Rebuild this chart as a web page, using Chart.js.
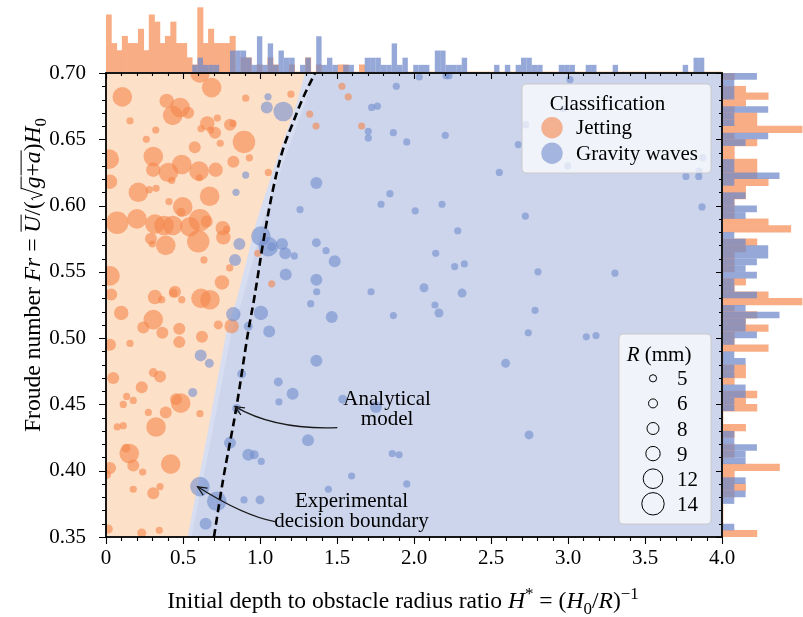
<!DOCTYPE html>
<html>
<head>
<meta charset="utf-8">
<script src="https://cdn.jsdelivr.net/npm/chart.js"></script>
<style>
  html, body { margin: 0; padding: 0; background: #fff; }
  #wrap { position: relative; width: 803px; height: 617px; overflow: hidden; }
  #wrap canvas { position: absolute; }
</style>
</head>
<body>
<div id="wrap">
  <canvas id="main" width="803" height="617" style="left:0;top:0"></canvas>
  <canvas id="histTop" width="616" height="72" style="left:106px;top:0"></canvas>
  <canvas id="histRight" width="80" height="464" style="left:723px;top:73px"></canvas>
</div>
<script>
const SERIF = '"Liberation Serif", "Times New Roman", Times, serif';
Chart.defaults.font.family = SERIF;
Chart.defaults.font.size = 21;
Chart.defaults.color = '#000';

// ---- data ----
const classNames = ['Jetting', 'Gravity waves'];
const sizeLegendR = [5, 6, 8, 9, 12, 14];

const xTickValues = [0, 0.5, 1, 1.5, 2, 2.5, 3, 3.5, 4];
const xTickLabels = ['0', '0.5', '1.0', '1.5', '2.0', '2.5', '3.0', '3.5', '4.0'];
const yTickValues = [0.35, 0.40, 0.45, 0.50, 0.55, 0.60, 0.65, 0.70];
const yTickLabels = ['0.35', '0.40', '0.45', '0.50', '0.55', '0.60', '0.65', '0.70'];

// [H*, Fr, R (mm)]
const jettingPoints = [
  [0.610,0.700,12],[0.686,0.689,12],[0.106,0.682,12],[0.394,0.679,9],[0.481,0.674,12],
  [0.433,0.668,12],[0.534,0.670,8],[0.156,0.664,5],[0.907,0.681,5],[1.201,0.684,5],
  [0.723,0.666,5],[0.658,0.662,9],[0.617,0.658,5],[0.708,0.655,8],[0.680,0.657,5],
  [0.805,0.661,8],[0.825,0.662,5],[0.323,0.657,5],[0.262,0.650,5],[0.896,0.648,14],
  [0.742,0.647,5],[0.576,0.644,8],[0.307,0.637,12],[0.021,0.635,12],[0.931,0.636,5],
  [0.492,0.631,12],[0.827,0.633,8],[0.307,0.627,9],[0.405,0.625,12],[0.604,0.626,12],
  [0.712,0.627,9],[0.427,0.619,5],[0.606,0.621,5],[0.026,0.618,9],[0.210,0.610,12],
  [0.281,0.612,5],[0.325,0.613,5],[0.673,0.607,12],[0.409,0.603,5],[0.498,0.599,12],
  [0.487,0.595,6],[0.073,0.587,14],[0.201,0.590,12],[0.318,0.586,12],[0.377,0.585,12],
  [0.433,0.585,12],[0.545,0.584,12],[0.610,0.589,14],[0.654,0.588,8],[0.758,0.583,9],
  [0.762,0.576,9],[0.784,0.582,5],[0.599,0.573,14],[0.292,0.575,8],[0.301,0.571,5],
  [0.388,0.570,12],[0.636,0.559,5],[0.803,0.553,5],[0.026,0.547,12],[0.034,0.533,8],
  [0.753,0.542,9],[0.985,0.564,5],[1.076,0.541,5],[1.323,0.669,5],[1.364,0.660,5],
  [1.532,0.690,5],[1.573,0.682,5],[1.660,0.660,5],[1.054,0.625,5],[0.448,0.535,8],
  [0.318,0.531,9],[0.099,0.519,9],[0.307,0.514,12],[0.242,0.508,8],[0.366,0.504,8],
  [0.476,0.507,8],[0.437,0.534,6],[0.492,0.529,5],[0.617,0.530,12],[0.675,0.529,12],
  [0.362,0.529,5],[0.729,0.510,6],[0.816,0.509,9],[0.026,0.495,8],[0.156,0.496,5],
  [0.476,0.497,8],[0.623,0.501,8],[0.047,0.470,8],[0.232,0.463,8],[0.307,0.474,6],
  [0.351,0.471,8],[0.455,0.454,8],[0.485,0.451,12],[0.134,0.456,5],[0.112,0.450,5],
  [0.177,0.453,5],[0.388,0.444,8],[0.275,0.444,5],[0.610,0.443,5],[0.325,0.433,12],
  [0.073,0.433,5],[0.112,0.434,5],[0.151,0.413,12],[0.130,0.417,6],[0.026,0.402,8],
  [0.004,0.397,6],[0.177,0.404,8],[0.238,0.399,5],[0.420,0.405,12],[0.177,0.386,5],
  [0.307,0.383,8],[0.351,0.388,5],[0.015,0.356,6],[0.232,0.353,6],[0.346,0.355,5]
];

const gravityPoints = [
  [1.052,0.682,5],[1.044,0.674,8],[1.151,0.671,12],[1.885,0.690,5],[1.725,0.674,5],
  [1.762,0.675,5],[1.703,0.656,5],[1.703,0.651,5],[1.866,0.655,5],[1.953,0.648,5],
  [0.907,0.623,5],[1.366,0.617,8],[0.844,0.610,5],[1.260,0.597,5],[1.844,0.609,5],
  [1.786,0.601,5],[2.008,0.596,5],[1.006,0.577,12],[1.054,0.569,12],[1.076,0.569,6],
  [1.143,0.571,8],[1.164,0.564,8],[1.223,0.562,5],[0.866,0.571,8],[0.838,0.559,8],
  [1.366,0.572,6],[1.429,0.566,5],[1.485,0.558,8],[1.167,0.548,8],[1.366,0.544,8],
  [1.368,0.535,5],[1.721,0.535,5],[0.827,0.518,9],[1.006,0.519,9],[0.924,0.509,6],
  [1.060,0.505,8],[1.329,0.526,5],[1.466,0.516,8],[1.866,0.517,5],[0.615,0.487,8],
  [0.671,0.481,6],[0.881,0.473,6],[0.563,0.459,6],[1.366,0.483,8],[1.119,0.467,6],
  [1.212,0.458,8],[1.123,0.452,5],[0.849,0.447,6],[1.537,0.454,6],[1.753,0.448,8],
  [1.312,0.423,8],[0.805,0.421,8],[0.924,0.412,8],[0.963,0.412,6],[1.008,0.407,5],
  [1.859,0.413,5],[1.903,0.412,5],[1.595,0.396,5],[1.953,0.390,5],[1.444,0.386,5],
  [0.610,0.388,12],[0.719,0.377,12],[0.896,0.378,5],[1.000,0.378,6],[0.647,0.360,8],
  [2.034,0.697,5],[2.208,0.698,5],[2.227,0.698,5],[3.013,0.695,5],[2.203,0.653,5],
  [2.677,0.646,5],[2.725,0.661,5],[2.969,0.673,5],[2.998,0.630,5],[2.554,0.625,5],
  [3.875,0.636,5],[3.766,0.622,5],[3.849,0.622,5],[3.851,0.626,5],[3.870,0.599,5],
  [2.182,0.601,5],[2.723,0.592,5],[2.284,0.581,5],[2.141,0.564,5],[2.264,0.554,5],
  [2.327,0.556,5],[2.805,0.550,5],[3.305,0.549,5],[2.065,0.538,6],[2.312,0.534,6],
  [2.136,0.525,5],[2.162,0.519,6],[2.786,0.521,5],[2.742,0.504,5],[3.119,0.501,5],
  [3.182,0.502,5],[2.595,0.481,6],[2.747,0.427,6]
];

// analytical jetting threshold, [H*, Fr]
const analyticCurve = [
  [0.701,0.350],[0.760,0.393],[0.847,0.448],[0.925,0.506],[0.961,0.529],
  [1.026,0.576],[1.084,0.612],[1.143,0.640],[1.221,0.6645],[1.273,0.6796],[1.357,0.700]
];
// classifier decision boundary (jetting side is above/left)
const jetBoundary = [
  [0,0.350],[0.530,0.350],[0.664,0.431],[0.784,0.506],[0.849,0.529],
  [0.979,0.589],[1.087,0.627],[1.238,0.677],[1.292,0.700]
];
// low-confidence strip just past the boundary
const boundaryBand = [
  [0,0.350],[0.555,0.350],[0.694,0.431],[0.818,0.506],[0.886,0.529],
  [1.022,0.589],[1.135,0.627],[1.292,0.677],[1.350,0.700]
];

// marginal histogram of H*, bins of 0.035 starting at 0
const histBinWidthX = 0.035;
const topJetting = [
  8,4,3,5,4,4,6,3,8,7, 4,5,7,4,4,2,1,9,4,6, 4,4,4,5,0,2,2,0,1,0,
  2,1,0,0,1,0,0,2,0,1, 0,0,0,1,1,0,0,1,0,0, 0,0,0,0,0,0,0,0,0,0,
  0,0,0,0,0,0,0,0,0,0, 0,0,0,0,0,0,0,0,0,0, 0,0,0,0,0,0,0,0,0,0,
  0,0,0,0,0,0,0,0,0,0, 0,0,0,0,0,0,0,0,0,0, 0,0,0,0,0
];
const topGravity = [
  0,0,0,0,0,0,0,0,0,0, 0,0,0,0,0,0,1,2,1,1, 1,0,0,3,3,3,2,1,5,1,
  4,1,3,2,2,0,1,2,0,5, 1,2,1,0,1,1,0,0,2,2, 2,1,1,4,1,2,0,1,1,1,
  0,3,3,1,1,1,2,0,0,0, 0,0,1,0,1,0,1,2,2,1, 1,0,0,0,1,1,1,0,0,1,
  1,0,0,0,1,0,0,0,0,0, 0,0,0,0,0,0,0,1,0,2, 2,0,0,0,0
];

// marginal histogram of Fr, bins of 0.005 listed from Fr = 0.70 downward
const histBinHeightY = 0.005;
const rightJetting = [
  1,0,2,4,2,1,3,3,7,1, 3,1,1,3,3,3,4,2,2,1, 1,1,4,6,0,3,2,1,1,1,
  0,2,1,4,7,1,3,2,4,1, 1,4,0,0,2,2,1,0,3,2, 3,0,0,2,1,0,1,1,0,5,
  1,1,2,1,0,0,0,0,0,3
];
const rightGravity = [
  3,1,1,1,0,4,1,1,0,4, 2,0,0,1,1,5,1,0,2,1, 3,2,0,0,1,2,4,4,3,2,
  3,1,1,3,0,2,5,2,2,3, 1,0,1,2,1,1,0,2,2,1, 1,0,0,0,1,1,3,2,2,0,
  0,2,1,2,1,0,0,0,1,0
];

// ---- styles ----
const ORANGE_PT = 'rgba(245,134,75,0.6)';
const BLUE_PT = 'rgba(113,141,206,0.6)';
const ORANGE_BG = '#fde0c8';
const BLUE_BG = '#cdd5ec';
const BAND_BG = '#d7def1';
const HIST_ORANGE = 'rgb(248,173,133)';
const HIST_BLUE = 'rgba(110,136,201,0.73)';
const markerRadius = { 5: 3.6, 6: 4.5, 8: 6.0, 9: 7.2, 12: 9.8, 14: 11.2 };
const TITLE_SIZE = 23.6;

const toPts = arr => arr.map(([x, y, R]) => ({ x, y, R }));
const toXY = arr => arr.map(([x, y]) => ({ x, y }));
const radiusOf = ctx => (ctx.raw ? markerRadius[ctx.raw.R] : 4);

// ---- rich text helpers (italic, sub/superscript, overbar, root) ----
function fontFor(p, size) {
  const s = (p.sub || p.sup) ? Math.round(size * 0.72) : size;
  return (p.i ? 'italic ' : '') + s + 'px ' + SERIF;
}
function richText(ctx, parts, size, x0, y0, draw) {
  let x = x0;
  for (const p of parts) {
    ctx.font = fontFor(p, size);
    const dy = p.sub ? size * 0.24 : p.sup ? -size * 0.4 : 0;
    const top = y0 - size * 0.8;
    if (p.root) {
      const rw = size * 0.55;
      if (draw) {
        ctx.beginPath();
        ctx.moveTo(x + 1, y0 - size * 0.3);
        ctx.lineTo(x + size * 0.12, y0 - size * 0.36);
        ctx.lineTo(x + size * 0.26, y0 + size * 0.1);
        ctx.lineTo(x + rw, top);
        ctx.stroke();
      }
      x += rw;
    }
    const w = ctx.measureText(p.t).width;
    if (draw) {
      ctx.fillText(p.t, x, y0 + dy);
      if (p.bar || p.root) {
        ctx.beginPath();
        ctx.moveTo(p.root ? x - 1 : x + 1, top);
        ctx.lineTo(x + w + (p.bar ? 1 : 0), top);
        ctx.stroke();
      }
    }
    x += w;
  }
  return x - x0;
}
function drawRichCentered(ctx, parts, size, cx, baseline) {
  const w = richText(ctx, parts, size, 0, 0, false);
  richText(ctx, parts, size, cx - w / 2, baseline, true);
}

const xTitle = [
  { t: 'Initial depth to obstacle radius ratio ' }, { t: 'H', i: true }, { t: '*', sup: true },
  { t: ' = (' }, { t: 'H', i: true }, { t: '0', sub: true }, { t: '/' }, { t: 'R', i: true },
  { t: ')' }, { t: '\u22121', sup: true }
];
const yTitle = [
  { t: 'Froude number ' }, { t: 'Fr', i: true }, { t: ' = ' }, { t: 'U', i: true, bar: true },
  { t: '/(' }, { t: 'g', i: true, root: true }, { t: '+', bar: true }, { t: 'a', i: true, bar: true },
  { t: ')' }, { t: 'H', i: true }, { t: '0', sub: true }
];

const annotations = [
  { lines: ['Analytical', 'model'], at: [1.825, 0.4496], tail: [1.502, 0.4325], ctrl: [1.097, 0.4307], tip: [0.838, 0.4483] },
  { lines: ['Experimental', 'decision boundary'], at: [1.594, 0.3724], tail: [1.097, 0.3616], ctrl: [0.894, 0.3660], tip: [0.595, 0.3879] }
];

function arrow(ctx, p0, c, p1) {
  ctx.beginPath();
  ctx.moveTo(p0[0], p0[1]);
  ctx.quadraticCurveTo(c[0], c[1], p1[0], p1[1]);
  ctx.stroke();
  const ang = Math.atan2(p1[1] - c[1], p1[0] - c[0]);
  const L = 10, spread = 0.42;
  ctx.beginPath();
  ctx.moveTo(p1[0] - L * Math.cos(ang - spread), p1[1] - L * Math.sin(ang - spread));
  ctx.lineTo(p1[0], p1[1]);
  ctx.lineTo(p1[0] - L * Math.cos(ang + spread), p1[1] - L * Math.sin(ang + spread));
  ctx.stroke();
}

function legendBox(ctx, x, y, w, h) {
  ctx.beginPath();
  ctx.roundRect(x, y, w, h, 4);
  ctx.fillStyle = 'rgba(255,255,255,0.7)';
  ctx.fill();
  ctx.strokeStyle = 'rgba(200,200,200,0.9)';
  ctx.lineWidth = 1;
  ctx.stroke();
}

const regionBg = {
  id: 'regionBg',
  beforeDraw(chart) {
    const { ctx, chartArea: a } = chart;
    ctx.save();
    ctx.fillStyle = BLUE_BG;
    ctx.fillRect(a.left, a.top, a.width, a.height);
    ctx.restore();
  }
};

const frame = {
  id: 'frame',
  afterDraw(chart) {
    const { ctx, chartArea: a, scales: { x, y } } = chart;
    ctx.save();
    ctx.strokeStyle = '#000';
    ctx.lineWidth = 1.1;
    ctx.beginPath();
    for (let i = 0; i <= 40; i++) {
      const px = Math.round(x.getPixelForValue(i / 10)) + 0.5;
      const len = i % 5 === 0 ? 7 : 4;
      ctx.moveTo(px, a.bottom); ctx.lineTo(px, a.bottom + len);
      ctx.moveTo(px, a.top); ctx.lineTo(px, a.top + len - 1);
    }
    for (let i = 35; i <= 70; i++) {
      const py = Math.round(y.getPixelForValue(i / 100)) + 0.5;
      const len = i % 5 === 0 ? 7 : 4;
      ctx.moveTo(a.left, py); ctx.lineTo(a.left - len, py);
      ctx.moveTo(a.right, py); ctx.lineTo(a.right - len + 1, py);
    }
    ctx.stroke();
    ctx.lineWidth = 1.8;
    ctx.strokeRect(a.left, a.top, a.width, a.height);
    ctx.restore();
  }
};

const overlay = {
  id: 'overlay',
  afterDraw(chart) {
    const { ctx, chartArea: a, scales: { x, y } } = chart;
    const P = ([vx, vy]) => [x.getPixelForValue(vx), y.getPixelForValue(vy)];
    ctx.save();
    ctx.fillStyle = '#000';
    ctx.strokeStyle = '#000';
    ctx.lineWidth = 1;
    ctx.textBaseline = 'alphabetic';

    // axis titles
    drawRichCentered(ctx, xTitle, TITLE_SIZE, (a.left + a.right) / 2 - 11, 608);
    ctx.save();
    ctx.translate(40, (a.top + a.bottom) / 2 - 30);
    ctx.rotate(-Math.PI / 2);
    drawRichCentered(ctx, yTitle, TITLE_SIZE, 0, 0);
    ctx.restore();

    // annotations
    ctx.font = '21px ' + SERIF;
    ctx.textAlign = 'center';
    for (const an of annotations) {
      const [tx, ty] = P(an.at);
      an.lines.forEach((s, k) => ctx.fillText(s, tx, ty + k * 20));
      ctx.strokeStyle = '#1a1a1a';
      ctx.lineWidth = 1.3;
      arrow(ctx, P(an.tail), P(an.ctrl), P(an.tip));
    }

    // classification legend
    let bx = a.right - 200, by = a.top + 11;
    legendBox(ctx, bx, by, 189, 89);
    ctx.fillStyle = '#000';
    ctx.textAlign = 'center';
    ctx.font = '21px ' + SERIF;
    ctx.fillText('Classification', bx + 85.5, by + 25.5);
    ctx.textAlign = 'left';
    [ORANGE_PT, BLUE_PT].forEach((col, k) => {
      const cy = by + 43.7 + k * 25.6;
      ctx.beginPath();
      ctx.arc(bx + 30, cy, 10.7, 0, Math.PI * 2);
      ctx.fillStyle = col;
      ctx.fill();
      ctx.fillStyle = '#000';
      ctx.fillText(classNames[k], bx + 54, cy + 6.6);
    });

    // marker size legend
    bx = a.right - 103; by = a.bottom - 203;
    legendBox(ctx, bx, by, 92, 190);
    ctx.fillStyle = '#000';
    ctx.textAlign = 'left';
    richText(ctx, [{ t: 'R', i: true }, { t: ' (mm)' }], 21, bx + 7.7, by + 27, true);
    ctx.font = '21px ' + SERIF;
    ctx.strokeStyle = '#000';
    ctx.lineWidth = 1;
    sizeLegendR.forEach((R, k) => {
      const cy = by + 44.3 + k * 25.1;
      ctx.beginPath();
      ctx.arc(bx + 34, cy, markerRadius[R], 0, Math.PI * 2);
      ctx.stroke();
      ctx.fillText(String(R), bx + 58, cy + 7);
    });
    ctx.restore();
  }
};

new Chart(document.getElementById('main'), {
  type: 'scatter',
  data: {
    datasets: [
      {
        type: 'line', label: 'Analytical model', data: toXY(analyticCurve),
        borderColor: '#000', borderWidth: 2.6, borderDash: [8, 4.5],
        pointRadius: 0, fill: false, showLine: true, cubicInterpolationMode: 'monotone', order: 0
      },
      {
        label: classNames[1], data: toPts(gravityPoints), backgroundColor: BLUE_PT,
        borderWidth: 0, pointRadius: radiusOf, order: 1
      },
      {
        label: classNames[0], data: toPts(jettingPoints), backgroundColor: ORANGE_PT,
        borderWidth: 0, pointRadius: radiusOf, order: 2
      },
      {
        type: 'line', label: 'jetting region', data: toXY(jetBoundary),
        borderColor: 'rgba(0,0,0,0)', backgroundColor: ORANGE_BG, fill: 'end',
        pointRadius: 0, showLine: true, tension: 0, order: 3
      },
      {
        type: 'line', label: 'boundary band', data: toXY(boundaryBand),
        borderColor: 'rgba(0,0,0,0)', backgroundColor: BAND_BG, fill: 'end',
        pointRadius: 0, showLine: true, tension: 0, order: 4
      }
    ]
  },
  options: {
    responsive: false,
    animation: false,
    events: [],
    layout: { padding: { left: 0, top: 73, right: 81, bottom: 0 } },
    plugins: { legend: { display: false }, tooltip: { enabled: false } },
    scales: {
      x: {
        type: 'linear', min: 0, max: 4,
        grid: { display: false }, border: { display: false },
        afterBuildTicks: s => { s.ticks = xTickValues.map(v => ({ value: v })); },
        ticks: { padding: 1, maxRotation: 0, autoSkip: false, color: '#000', callback: (v, i) => xTickLabels[i] },
        afterFit: s => { s.height = 80; }
      },
      y: {
        type: 'linear', min: 0.35, max: 0.70,
        grid: { display: false }, border: { display: false },
        afterBuildTicks: s => { s.ticks = yTickValues.map(v => ({ value: v })); },
        ticks: { padding: 12, autoSkip: false, color: '#000', callback: (v, i) => yTickLabels[i] },
        afterFit: s => { s.width = 106; }
      }
    }
  },
  plugins: [regionBg, frame, overlay]
});

// marginal histograms
const barStyle = { grouped: false, categoryPercentage: 1, barPercentage: 1, borderWidth: 0 };
const histOptions = (indexAxis, scales) => ({
  responsive: false, animation: false, events: [], indexAxis,
  layout: { padding: 0 },
  plugins: { legend: { display: false }, tooltip: { enabled: false } },
  scales
});

new Chart(document.getElementById('histTop'), {
  type: 'bar',
  data: {
    datasets: [
      { ...barStyle, inflateAmount: 0, label: classNames[1], backgroundColor: HIST_BLUE,
        data: topGravity.map((c, i) => ({ x: (i + 0.5) * histBinWidthX, y: c })) },
      { ...barStyle, label: classNames[0], backgroundColor: HIST_ORANGE,
        data: topJetting.map((c, i) => ({ x: (i + 0.5) * histBinWidthX, y: c })) }
    ]
  },
  options: histOptions('x', {
    x: { type: 'linear', min: 0, max: 4, offset: false, display: false },
    y: { type: 'linear', min: 0, max: 10.07, display: false }
  })
});

new Chart(document.getElementById('histRight'), {
  type: 'bar',
  data: {
    datasets: [
      { ...barStyle, inflateAmount: 0, label: classNames[1], backgroundColor: HIST_BLUE,
        data: rightGravity.map((c, k) => ({ x: c, y: 0.70 - (k + 0.5) * histBinHeightY })) },
      { ...barStyle, label: classNames[0], backgroundColor: HIST_ORANGE,
        data: rightJetting.map((c, k) => ({ x: c, y: 0.70 - (k + 0.5) * histBinHeightY })) }
    ]
  },
  options: histOptions('y', {
    y: { type: 'linear', min: 0.35, max: 0.70, offset: false, display: false },
    x: { type: 'linear', min: 0, max: 7.08, display: false }
  })
});
</script>
</body>
</html>
